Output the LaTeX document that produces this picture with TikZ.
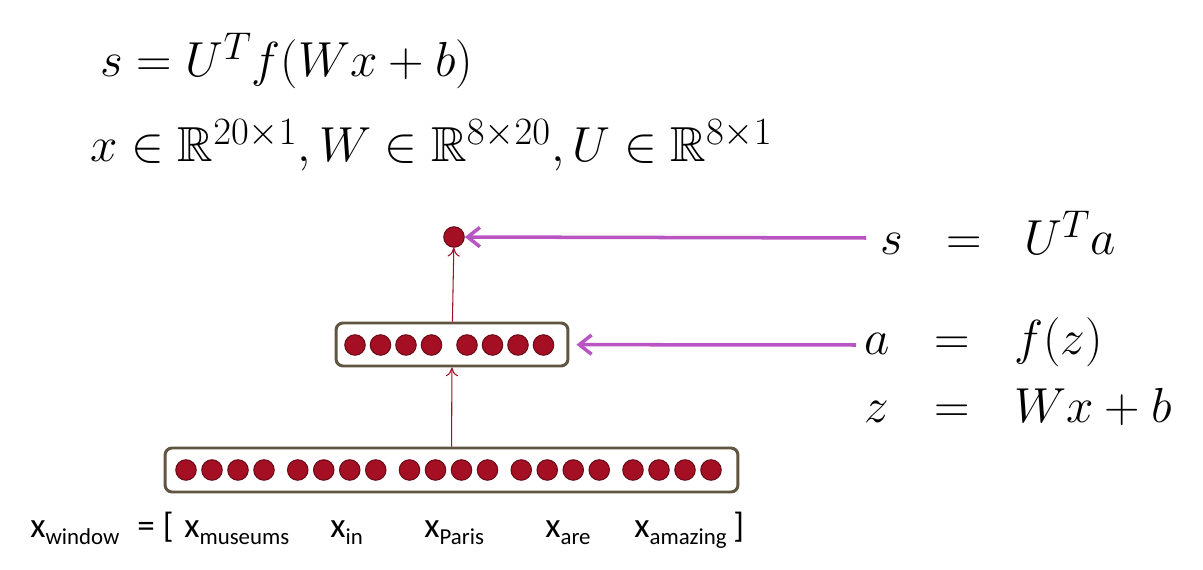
\RequirePackage{fix-cm}
\documentclass[tikz,border=0pt]{standalone}
\usepackage{amsmath,amssymb}
\usepackage{fontspec}
\newfontfamily\labelfont{Carlito}
\usepackage{tikz}
\usetikzlibrary{arrows.meta,positioning,calc}
\definecolor{ncol}{RGB}{165,15,35}
\definecolor{nedge}{RGB}{105,10,25}
\definecolor{boxcol}{RGB}{95,85,65}
\definecolor{pcol}{RGB}{185,85,195}
\DeclareMathSizes{28}{28}{22}{16}
\newcommand{\xsub}[1]{x\raisebox{-0.45ex}{\fontsize{13}{14}\selectfont #1}}

\begin{document}
\begin{tikzpicture}[x=0.02cm, y=-0.02cm, >=Stealth,
  neuron/.style={circle, fill=ncol, draw=nedge, line width=0.6pt, minimum size=0.41cm, inner sep=0pt},
  layer/.style={draw=boxcol, line width=1.7pt, rounded corners=4pt, fill=white, inner sep=0pt},
  feed/.style={draw=ncol, line width=0.6pt, -{To[length=5pt,width=7pt]}},
  push/.style={draw=pcol, line width=2pt, -{Straight Barb[length=7pt,width=11pt]}},
  eq/.style={anchor=base west, inner sep=0pt, font=\fontsize{28}{34}\selectfont},
  lbl/.style={anchor=base west, inner sep=0pt, font=\labelfont\fontsize{20}{24}\selectfont}]
\useasboundingbox (0,0) rectangle (1203,570);

% model
\node[eq] (topEq) at (100,77) {$s = U^T f(Wx+b)$};
\node[eq] (dimEq) at (90,162) {$x \in \mathbb{R}^{20\times 1}, W \in \mathbb{R}^{8\times 20}, U \in \mathbb{R}^{8\times 1}$};

% layers
\node[layer, minimum width=11.46cm, minimum height=0.88cm] (inBox) at (451.5,470) {};
\node[layer, minimum width=4.64cm, minimum height=0.86cm] (hidBox) at (452,344.5) {};
\foreach \g in {0,...,4}
  \foreach \k in {0,...,3}
    \node[neuron] (in\g\k) at ({186+111.75*\g+26*\k},470) {};
\foreach \g in {0,1}
  \foreach \k in {0,...,3}
    \node[neuron] (hid\g\k) at ({355+112*\g+25.5*\k},345) {};
\node[neuron] (out) at (454,237) {};

\draw[feed] (inBox) -- (hidBox);
\draw[feed] (hidBox) -- (out);

% right side
\node[eq] (sLhs) at (880,255) {$s$};
\node[eq] (sEq) at (946,255) {$=$};
\node[eq] (sRhs) at (1024,255) {$U^T a$};
\node[eq] (aLhs) at (864,355) {$a$};
\node[eq] (aEq) at (934,355) {$=$};
\node[eq] (aRhs) at (1014,355) {$f(z)$};
\node[eq] (zLhs) at (864,423) {$z$};
\node[eq] (zEq) at (934,423) {$=$};
\node[eq] (zRhs) at (1014,423) {$Wx+b$};

\coordinate (sTail) at (866,238);
\coordinate (aTail) at (856,345);
\draw[push] (sTail) -- (out);
\draw[push, shorten >=0.14cm] (aTail) -- (hidBox);

% window
\node[lbl] (winLbl) at (30,537) {\xsub{window}};
\node[lbl] (openBr) at (137,537) {= [};
\node[lbl] (museLbl) at (184,537) {\xsub{museums}};
\node[lbl] (inLbl) at (330,537) {\xsub{in}};
\node[lbl] (parisLbl) at (424,537) {\xsub{Paris}};
\node[lbl] (areLbl) at (545,537) {\xsub{are}};
\node[lbl] (amazLbl) at (634,537) {\xsub{amazing}};
\node[lbl] (closeBr) at (733,537) {]};
\end{tikzpicture}
\end{document}
